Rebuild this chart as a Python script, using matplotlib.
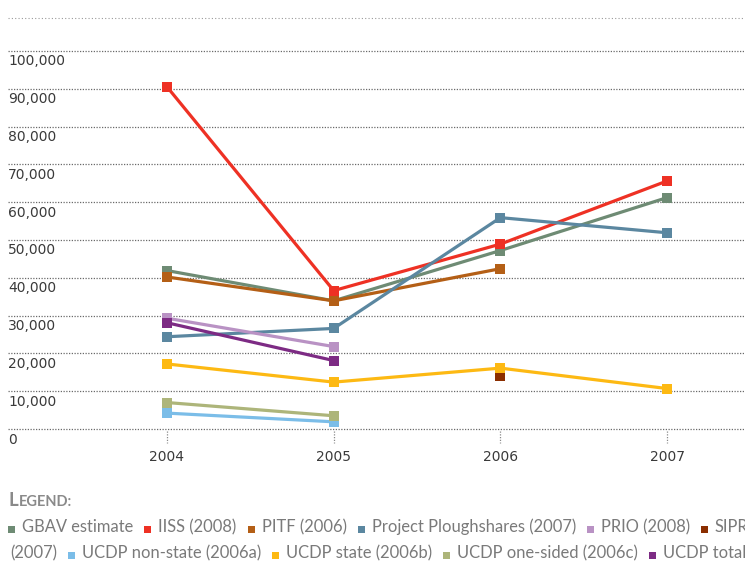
import matplotlib
matplotlib.use("Agg")
import matplotlib.pyplot as plt
from matplotlib.transforms import blended_transform_factory, offset_copy

years = [2004, 2005, 2006, 2007]
series_names = ["GBAV estimate", "IISS (2008)", "PITF (2006)", "Project Ploughshares (2007)",
                "PRIO (2008)", "SIPRI (2007)", "UCDP non-state (2006a)", "UCDP state (2006b)",
                "UCDP one-sided (2006c)", "UCDP total"]
gbav = [41900, 33900, 47200, 61200]
iiss = [90500, 36600, 48900, 65600]
pitf = [40200, 33900, 42400, None]
ploughshares = [24400, 26600, 55900, 51900]
prio = [29300, 21800, None, None]
sipri = [None, None, 14100, None]
ucdp_nonstate = [4200, 1900, None, None]
ucdp_state = [17200, 12400, 16100, 10700]
ucdp_onesided = [7000, 3500, None, None]
ucdp_total = [28100, 18100, None, None]
series_values = [gbav, iiss, pitf, ploughshares, prio, sipri, ucdp_nonstate,
                 ucdp_state, ucdp_onesided, ucdp_total]
colors = ["#6e8b74", "#ee3124", "#b45f16", "#5b87a0", "#b992c4", "#8b2e00",
          "#7bbde8", "#fdb913", "#adb57a", "#7d2b84"]
yticks = [0, 10000, 20000, 30000, 40000, 50000, 60000, 70000, 80000, 90000, 100000]
ytick_labels = ["0", "10,000", "20,000", "30,000", "40,000", "50,000", "60,000",
                "70,000", "80,000", "90,000", "100,000"]

W, H = 745, 562
fig = plt.figure(figsize=(W / 100, H / 100), dpi=100)
ax = fig.add_axes([0, 1 - 429 / H, 1, (429 - 18) / H])
ax.set_xlim(2004 - 167 / 166.7, 2004 + 578 / 166.7)
ax.set_ylim(0, 108700)
ax.axis("off")

# gridlines
for v in yticks:
    ax.axhline(v, xmin=8 / W, xmax=1, color="#6a6a6a", lw=0.9, ls=(0, (1, 1.2)), zorder=1,
               clip_on=False)
ax.axhline(108700, xmin=8 / W, xmax=1, color="#9a9a9a", lw=0.8, ls=(0, (1, 2)), zorder=1,
           clip_on=False)

# y tick labels below each gridline
ttrans = blended_transform_factory(fig.transFigure, ax.transData)
ltrans = offset_copy(ttrans, fig=fig, x=0, y=-3.5, units="dots")
for v, lab in zip(yticks, ytick_labels):
    ax.text(8 / W, v, lab, transform=ltrans, ha="left", va="top",
            fontsize=10, color="#3a3a3a", family="DejaVu Sans")

# x ticks and labels
for yr in years:
    ax.plot([yr, yr], [-500, -3600], color="#8a8a8a", lw=0.9, ls=(0, (1, 1.2)), clip_on=False)
    ax.text(yr, -7400, str(yr), ha="center", va="center", fontsize=10,
            color="#3a3a3a", family="DejaVu Sans", clip_on=False)

# series
for name, vals, c in zip(series_names, series_values, colors):
    xs = [y for y, v in zip(years, vals) if v is not None]
    vs = [v for v in vals if v is not None]
    ax.plot(xs, vs, color=c, lw=2.3, marker="s", markersize=6.5, markeredgewidth=0,
            solid_joinstyle="miter", zorder=3, clip_on=False)

# legend title
fig.text(8 / W, 1 - 501 / H, "L", fontsize=13.5, fontweight="bold", color="#8a8a8a",
         family="Lato", va="center", ha="left")
fig.text(18.5 / W, 1 - 502 / H, "EGEND:", fontsize=10.5, fontweight="bold", color="#8a8a8a",
         family="Lato", va="center", ha="left")

# legend items, flowing across two rows
fig.canvas.draw()
renderer = fig.canvas.get_renderer()
fs = 11.9
tcolor = "#7a7a7a"

def add_square(x, yc, c):
    fig.patches.append(plt.Rectangle((x / W, 1 - (yc + 3.5) / H), 7 / W, 7 / H,
                                     transform=fig.transFigure, facecolor=c,
                                     edgecolor="none", figure=fig))

def add_text(x, yc, s):
    t = fig.text(x / W, 1 - yc / H, s, fontsize=fs, color=tcolor, family="Lato",
                 va="center", ha="left")
    bb = t.get_window_extent(renderer=renderer)
    return x + bb.width

row_y = [528, 554]
x = 8
row = 0
for i, (name, c) in enumerate(zip(series_names, colors)):
    if i == 6:
        row = 1
        x = add_text(10, row_y[1] - 1, "(2007)") + 11
    add_square(x, row_y[row] + 1, c)
    label = "SIPRI" if i == 5 else name
    x = add_text(x + 14, row_y[row] - 1, label) + 11

fig.savefig("out.png", dpi=100)
